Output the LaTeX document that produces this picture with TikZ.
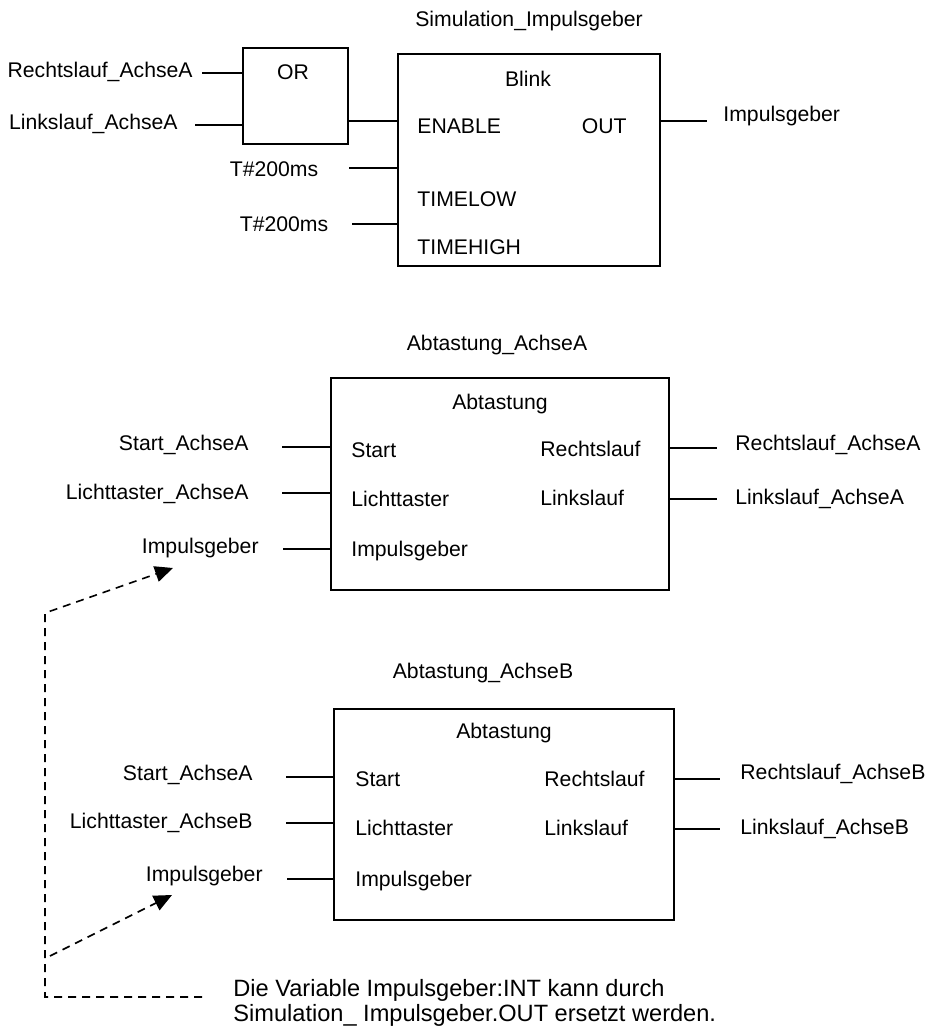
\documentclass[tikz,border=0pt]{standalone}
\usepackage{fontspec}
\setmainfont{Liberation Sans}
\usetikzlibrary{arrows.meta, positioning}

\tikzset{
  lbl/.style={inner sep=0pt, font=\fontsize{10.6}{12.6}\selectfont},
  fb/.style={draw, line width=0.9pt, inner sep=0pt, anchor=north west},
  wire/.style={line width=0.9pt},
  hint/.style={line width=0.8pt, dash pattern=on 4pt off 3pt, -{Triangle[length=9pt,width=8pt]}}
}

\begin{document}
\begin{tikzpicture}[x=0.5pt, y=-0.5pt]
    \useasboundingbox (0,0) rectangle (925,1026);

    % Simulation_Impulsgeber
    \node[lbl] (simtitle) at (529,21) {Simulation\_Impulsgeber};
    \node[fb, minimum width=52.5pt, minimum height=48pt] (orbox) at (242,47) {};
    \node[lbl] (ortext) at (293,72) {OR};
    \node[fb, minimum width=131pt, minimum height=106pt] (blink) at (397,53) {};
    \node[lbl] (blinkname) at (528,79) {Blink};
    \node[lbl, anchor=mid west] (en) at (417,128) {ENABLE};
    \node[lbl, anchor=mid east] (out) at (627,128) {OUT};
    \node[lbl, anchor=mid west] (tlow) at (417,201) {TIMELOW};
    \node[lbl, anchor=mid west] (thigh) at (417,249) {TIMEHIGH};

    \node[lbl, anchor=mid east] (rlA) at (193,72) {Rechtslauf\_AchseA};
    \node[lbl, anchor=mid east] (llA) at (178,124) {Linkslauf\_AchseA};
    \node[lbl] (tlowval) at (274,169) {T\#200ms};
    \node[lbl] (thighval) at (284,224) {T\#200ms};
    \node[lbl, anchor=mid west] (impout) at (723,116) {Impulsgeber};

    \coordinate (rlA-w) at (202,73);
    \coordinate (llA-w) at (195,125);
    \coordinate (or-out) at (347,121);
    \coordinate (tlow-w) at (349,168);
    \coordinate (thigh-w) at (352,224);
    \coordinate (out-w) at (707,121);
    \draw[wire] (rlA-w) -- (rlA-w -| orbox.west);
    \draw[wire] (llA-w) -- (llA-w -| orbox.west);
    \draw[wire] (or-out) -- (or-out -| blink.west);
    \draw[wire] (tlow-w) -- (tlow-w -| blink.west);
    \draw[wire] (thigh-w) -- (thigh-w -| blink.west);
    \draw[wire] (out-w -| blink.east) -- (out-w);

    % Abtastung_AchseA
    \node[lbl] (titleA) at (497,345) {Abtastung\_AchseA};
    \node[fb, minimum width=169pt, minimum height=106pt] (boxA) at (330,377) {};
    \node[lbl] (nameA) at (500,404) {Abtastung};
    \node[lbl, anchor=mid west] (startA) at (351,452) {Start};
    \node[lbl, anchor=mid west] (lichtA) at (351,501) {Lichttaster};
    \node[lbl, anchor=mid west] (impA) at (351,551) {Impulsgeber};
    \node[lbl, anchor=mid west] (rechtsA) at (540,451) {Rechtslauf};
    \node[lbl, anchor=mid west] (linksA) at (540,500) {Linkslauf};

    \node[lbl, anchor=mid east] (startAin) at (249,445) {Start\_AchseA};
    \node[lbl, anchor=mid east] (lichtAin) at (249,494) {Lichttaster\_AchseA};
    \node[lbl, anchor=mid east] (impAin) at (259,548) {Impulsgeber};
    \node[lbl, anchor=mid west] (rechtsAout) at (735,445) {Rechtslauf\_AchseA};
    \node[lbl, anchor=mid west] (linksAout) at (735,499) {Linkslauf\_AchseA};

    \coordinate (startA-w) at (282,447);
    \coordinate (lichtA-w) at (282,493);
    \coordinate (impA-w) at (283,549);
    \coordinate (rechtsA-w) at (717,448);
    \coordinate (linksA-w) at (717,499);
    \draw[wire] (startA-w) -- (startA-w -| boxA.west);
    \draw[wire] (lichtA-w) -- (lichtA-w -| boxA.west);
    \draw[wire] (impA-w) -- (impA-w -| boxA.west);
    \draw[wire] (rechtsA-w -| boxA.east) -- (rechtsA-w);
    \draw[wire] (linksA-w -| boxA.east) -- (linksA-w);

    % Abtastung_AchseB
    \node[lbl] (titleB) at (483,673) {Abtastung\_AchseB};
    \node[fb, minimum width=170pt, minimum height=105.5pt] (boxB) at (333,708) {};
    \node[lbl] (nameB) at (504,733) {Abtastung};
    \node[lbl, anchor=mid west] (startB) at (355,781) {Start};
    \node[lbl, anchor=mid west] (lichtB) at (355,830) {Lichttaster};
    \node[lbl, anchor=mid west] (impB) at (355,881) {Impulsgeber};
    \node[lbl, anchor=mid west] (rechtsB) at (544,781) {Rechtslauf};
    \node[lbl, anchor=mid west] (linksB) at (544,830) {Linkslauf};

    \node[lbl, anchor=mid east] (startBin) at (253,775) {Start\_AchseA};
    \node[lbl, anchor=mid east] (lichtBin) at (253,823) {Lichttaster\_AchseB};
    \node[lbl, anchor=mid east] (impBin) at (263,876) {Impulsgeber};
    \node[lbl, anchor=mid west] (rechtsBout) at (740,774) {Rechtslauf\_AchseB};
    \node[lbl, anchor=mid west] (linksBout) at (740,829) {Linkslauf\_AchseB};

    \coordinate (startB-w) at (286,777);
    \coordinate (lichtB-w) at (286,823);
    \coordinate (impB-w) at (287,879);
    \coordinate (rechtsB-w) at (720,779);
    \coordinate (linksB-w) at (720,829);
    \draw[wire] (startB-w) -- (startB-w -| boxB.west);
    \draw[wire] (lichtB-w) -- (lichtB-w -| boxB.west);
    \draw[wire] (impB-w) -- (impB-w -| boxB.west);
    \draw[wire] (rechtsB-w -| boxB.east) -- (rechtsB-w);
    \draw[wire] (linksB-w -| boxB.east) -- (linksB-w);

    % Hinweis
    \node[lbl, font=\fontsize{11.8}{12.6}\selectfont, anchor=north west, align=left] (note) at (233,979)
        {Die Variable Impulsgeber:INT kann durch\\Simulation\_ Impulsgeber.OUT ersetzt werden.};
    \coordinate (tipA) at (173,568);
    \coordinate (tipB) at (172,895);
    \coordinate (bend) at (45,613);
    \coordinate (foot) at (45,997);
    \coordinate (footend) at (202,997);
    \coordinate (branch) at (50,956);
    \draw[hint] (footend) -- (foot) -- (bend) -- (tipA);
    \draw[hint] (branch) -- (tipB);
\end{tikzpicture}
\end{document}
